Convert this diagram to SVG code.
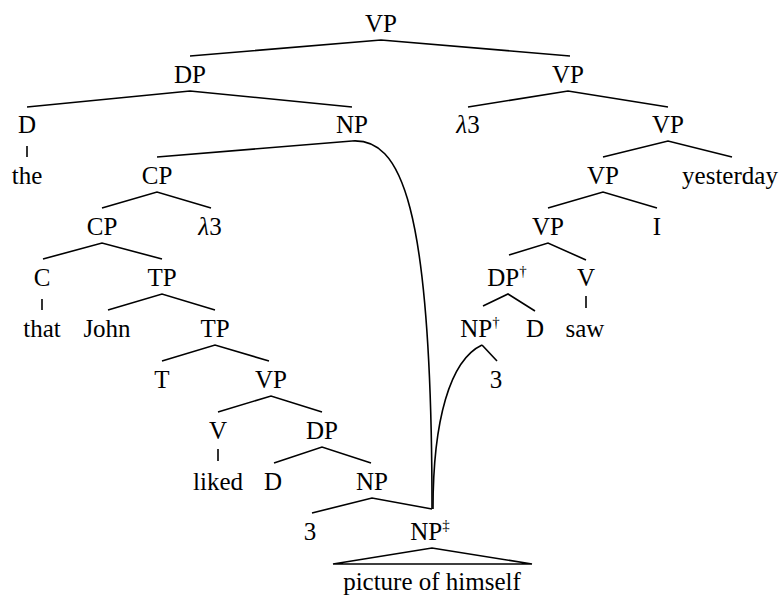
<svg xmlns="http://www.w3.org/2000/svg" width="779" height="595" viewBox="0 0 779 595">
<rect width="779" height="595" fill="#fff"/>
<g id="edges" stroke="#000" stroke-width="1.6" fill="none">
<path d="M190 56 L381 40 L570 56"/>
<path d="M27 107 L190 91 L352 107"/>
<path d="M468 107 L568 91 L668 107"/>
<path d="M157 157 L352 141"/>
<path d="M603 157 L668 141 L732 157"/>
<line x1="27" y1="146" x2="27" y2="157"/>
<path d="M102 208 L157 192 L211 208"/>
<path d="M548 208 L603 192 L657 208"/>
<path d="M43 259 L102 243 L162 259"/>
<path d="M509 255 L548 243 L586 260"/>
<line x1="42" y1="299" x2="42" y2="310"/>
<path d="M108 310 L162 294 L215 310"/>
<path d="M483 306 L508 294 L535 311"/>
<line x1="586" y1="296" x2="586" y2="308"/>
<path d="M482 345 L497 361"/>
<path d="M162 361 L215 345 L269 361"/>
<path d="M218 412 L271 396 L322 412"/>
<line x1="218" y1="449" x2="218" y2="461"/>
<path d="M274 463 L322 447 L371 463"/>
<path d="M312 513 L372 498 L432 509"/>
<path d="M352 141 C400 138 432 200 432 509"/>
<path d="M482 345 C450 360 433 420 433 509"/>
<path d="M333 564 L432 548 L532 564 Z"/>
</g>
<g id="nodes" font-family="Tinos, Times New Roman, Liberation Serif, serif" font-size="25" text-anchor="middle" fill="#000">
<g id="n-vp-root"><text x="381" y="32">VP</text></g>
<g id="n-dp"><text x="190" y="83">DP</text></g>
<g id="n-vp2"><text x="568" y="83">VP</text></g>
<g id="n-d1"><text x="27" y="133">D</text></g>
<g id="n-np1"><text x="352" y="133">NP</text></g>
<g id="n-lambda1"><text x="468" y="133"><tspan font-style="italic">λ</tspan>3</text></g>
<g id="n-vp3"><text x="668" y="133">VP</text></g>
<g id="n-the"><text x="27" y="184">the</text></g>
<g id="n-cp1"><text x="157" y="184">CP</text></g>
<g id="n-vp4"><text x="603" y="184">VP</text></g>
<g id="n-yesterday"><text x="730" y="184">yesterday</text></g>
<g id="n-cp2"><text x="102" y="235">CP</text></g>
<g id="n-lambda2"><text x="210" y="235"><tspan font-style="italic">λ</tspan>3</text></g>
<g id="n-vp5"><text x="548" y="235">VP</text></g>
<g id="n-i"><text x="657" y="235">I</text></g>
<g id="n-c"><text x="42" y="286">C</text></g>
<g id="n-tp1"><text x="162" y="286">TP</text></g>
<g id="n-dpdag"><text x="507" y="286">DP<tspan font-size="15" dy="-10">†</tspan></text></g>
<g id="n-v1"><text x="586" y="286">V</text></g>
<g id="n-that"><text x="42" y="337">that</text></g>
<g id="n-john"><text x="107" y="337">John</text></g>
<g id="n-tp2"><text x="215" y="337">TP</text></g>
<g id="n-npdag"><text x="480" y="337">NP<tspan font-size="15" dy="-10">†</tspan></text></g>
<g id="n-d2"><text x="535" y="337">D</text></g>
<g id="n-saw"><text x="585" y="337">saw</text></g>
<g id="n-t"><text x="162" y="388">T</text></g>
<g id="n-vp6"><text x="271" y="388">VP</text></g>
<g id="n-3a"><text x="496" y="388">3</text></g>
<g id="n-v2"><text x="218" y="439">V</text></g>
<g id="n-dp2"><text x="322" y="439">DP</text></g>
<g id="n-liked"><text x="218" y="490">liked</text></g>
<g id="n-d3"><text x="273" y="490">D</text></g>
<g id="n-np2"><text x="372" y="490">NP</text></g>
<g id="n-3b"><text x="310" y="540">3</text></g>
<g id="n-npddag"><text x="430" y="540">NP<tspan font-size="15" dy="-10">‡</tspan></text></g>
<g id="n-phrase"><text x="432" y="590">picture of himself</text></g>
</g>
</svg>
